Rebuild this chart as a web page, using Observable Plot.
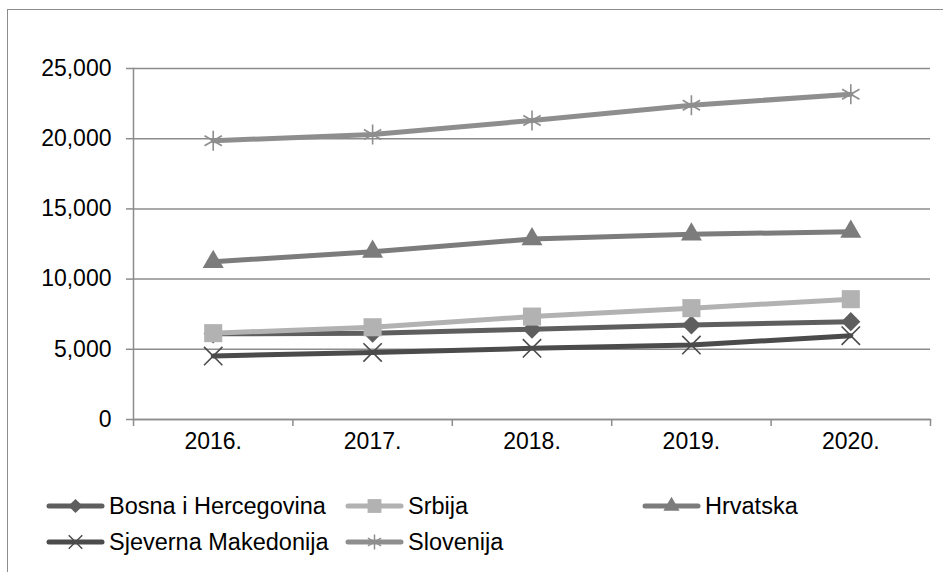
<!DOCTYPE html>
<html>
<head>
<meta charset="utf-8">
<script src="https://cdn.jsdelivr.net/npm/d3@7"></script>
<script src="https://cdn.jsdelivr.net/npm/@observablehq/plot@0.6"></script>
<style>
  html, body { margin: 0; padding: 0; background: #fff; overflow: hidden; }
  #wrap { position: relative; width: 943px; height: 572px; overflow: hidden; font-family: "Liberation Sans", Arial, sans-serif; }
  #frame { position: absolute; left: 7px; top: 9px; width: 960px; height: 600px; border: 1.5px solid #8c8c8c; box-sizing: border-box; }
  #chart { position: absolute; left: 0; top: 0; }
  .leg { position: absolute; display: flex; align-items: center; font-size: 23.5px; color: #000; white-space: nowrap; }
  .leg svg { display: block; margin-right: 3px; }
</style>
</head>
<body>
<div id="wrap">
  <div id="frame"></div>
  <div id="chart"></div>
  <div id="legend"></div>
</div>
<script>
// ---- data ----
const years = ["2016.", "2017.", "2018.", "2019.", "2020."];
const seriesNames = ["Bosna i Hercegovina", "Srbija", "Hrvatska", "Sjeverna Makedonija", "Slovenija"];
const bih = [6100, 6150, 6430, 6730, 6970];
const srbija = [6150, 6570, 7330, 7930, 8570];
const hrvatska = [11230, 11950, 12850, 13190, 13380];
const sjMakedonija = [4520, 4780, 5070, 5300, 5970];
const slovenija = [19850, 20300, 21300, 22380, 23170];
const yTicks = [0, 5000, 10000, 15000, 20000, 25000];

const seriesValues = [bih, srbija, hrvatska, sjMakedonija, slovenija];
const colors = ["#5e5e5e", "#b2b2b2", "#7c7c7c", "#4b4b4b", "#8e8e8e"];
const symbols = ["diamond2", "square", "triangle", "times", "asterisk"];
const filled = [true, true, true, false, false];
const radii = [8.6, 10.2, 7.8, 8.4, 9.5];
const legendRadii = [6.4, 7.8, 6, 6.2, 7.2];

const idx = years.map((_, i) => i);
const boundaries = [-0.5, ...idx.map(i => i + 0.5)];

const marks = [
  Plot.gridY(yTicks, {stroke: "#8c8c8c", strokeOpacity: 1, strokeWidth: 1.5}),
  Plot.axisY(yTicks, {tickSize: 7, tickPadding: 15, tickFormat: d3.format(","), stroke: "#8c8c8c", strokeWidth: 1.5, fill: "#000", fontSize: 23, label: null}),
  Plot.frame({anchor: "left", stroke: "#8c8c8c", strokeWidth: 1.5}),
  Plot.frame({anchor: "bottom", stroke: "#8c8c8c", strokeWidth: 1.5}),
  Plot.axisX(boundaries, {tickSize: 7, tickFormat: () => "", stroke: "#8c8c8c", strokeWidth: 1.5, label: null}),
  Plot.axisX(idx, {tickSize: 0, tickPadding: 13, tickFormat: i => years[i], fill: "#000", fontSize: 23, label: null})
];

seriesValues.forEach((vals, s) => {
  const rows = vals.map((v, i) => ({i, value: v, series: seriesNames[s]}));
  marks.push(Plot.line(rows, {x: "i", y: "value", stroke: colors[s], strokeWidth: 5, strokeLinejoin: "round", strokeLinecap: "round"}));
  if (filled[s]) {
    marks.push(Plot.dot(rows, {x: "i", y: "value", symbol: symbols[s], r: radii[s], fill: colors[s], stroke: "none"}));
  } else {
    marks.push(Plot.dot(rows, {x: "i", y: "value", symbol: symbols[s], r: radii[s], fill: "none", stroke: colors[s], strokeWidth: 1.6}));
  }
});

const chart = Plot.plot({
  width: 943,
  height: 470,
  marginLeft: 133,
  marginRight: 13,
  marginTop: 68,
  marginBottom: 51,
  x: {type: "linear", domain: [-0.5, years.length - 0.5], axis: null},
  y: {domain: [0, 25000], axis: null},
  style: {fontFamily: "'Liberation Sans', Arial, sans-serif", fontSize: "23px", background: "transparent", color: "#000", overflow: "visible"},
  marks
});
document.getElementById("chart").appendChild(chart);

// ---- legend ----
const legendPos = [[44, 506], [343, 506], [640, 506], [44, 542], [343, 542]];
const legend = document.getElementById("legend");
seriesNames.forEach((name, s) => {
  const item = document.createElement("div");
  item.className = "leg";
  item.style.left = legendPos[s][0] + "px";
  item.style.top = (legendPos[s][1] - 14) + "px";
  item.style.height = "28px";
  const ns = "http://www.w3.org/2000/svg";
  const svg = document.createElementNS(ns, "svg");
  svg.setAttribute("width", 62);
  svg.setAttribute("height", 28);
  const line = document.createElementNS(ns, "line");
  line.setAttribute("x1", 5); line.setAttribute("x2", 58);
  line.setAttribute("y1", 14); line.setAttribute("y2", 14);
  line.setAttribute("stroke", colors[s]); line.setAttribute("stroke-width", 5);
  line.setAttribute("stroke-linecap", "round");
  svg.appendChild(line);
  const symMap = {diamond2: d3.symbolDiamond2, square: d3.symbolSquare, triangle: d3.symbolTriangle, times: d3.symbolTimes, asterisk: d3.symbolAsterisk};
  const r = legendRadii[s];
  const p = document.createElementNS(ns, "path");
  p.setAttribute("d", d3.symbol(symMap[symbols[s]], r * r * Math.PI)());
  p.setAttribute("transform", "translate(31.5,14)");
  if (filled[s]) { p.setAttribute("fill", colors[s]); }
  else { p.setAttribute("fill", "none"); p.setAttribute("stroke", colors[s]); p.setAttribute("stroke-width", 1.5); }
  svg.appendChild(p);
  item.appendChild(svg);
  const t = document.createElement("span");
  t.textContent = name;
  item.appendChild(t);
  legend.appendChild(item);
});
</script>
</body>
</html>
